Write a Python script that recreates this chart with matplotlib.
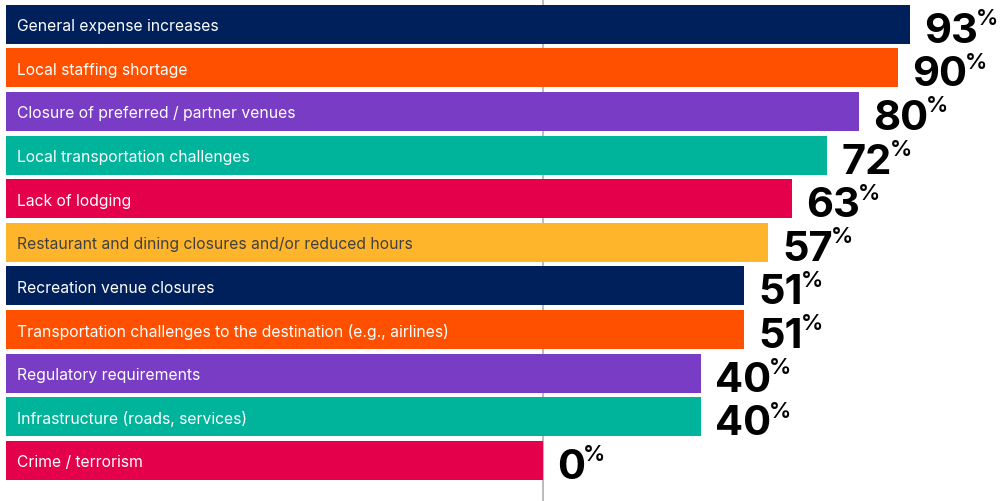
import matplotlib
matplotlib.use("Agg")
import matplotlib.pyplot as plt

categories = [
    "General expense increases",
    "Local staffing shortage",
    "Closure of preferred / partner venues",
    "Local transportation challenges",
    "Lack of lodging",
    "Restaurant and dining closures and/or reduced hours",
    "Recreation venue closures",
    "Transportation challenges to the destination (e.g., airlines)",
    "Regulatory requirements",
    "Infrastructure (roads, services)",
    "Crime / terrorism",
]
values = [93, 90, 80, 72, 63, 57, 51, 51, 40, 40, 0]

colors = ["#00205B", "#FF5000", "#793CC5", "#00B39B", "#E4004B", "#FFB52B"]
label_colors = ["white", "white", "white", "white", "white", "#404040"]

bar_start = -136  # bars begin well left of the zero line

fig = plt.figure(figsize=(10, 5.02), dpi=100)
ax = fig.add_axes([0, 0, 1, 1])
ax.set_xlim(-137.5, 115.7)
ax.set_ylim(10.93, -0.58)
ax.axis("off")

ax.axvline(0, color="#b0b0b0", lw=1.2, zorder=0)

for i, (cat, v) in enumerate(zip(categories, values)):
    c = colors[i % len(colors)]
    tc = label_colors[i % len(colors)]
    ax.barh(i, v - bar_start, left=bar_start, height=0.895, color=c, zorder=2)
    ax.annotate(cat, xy=(bar_start, i), xytext=(8, -1), textcoords="offset points",
                va="center", ha="left", color=tc, fontsize=11.3, family="Inter", zorder=3)
    num = ax.annotate(f"{v}", xy=(v, i), xytext=(10, -12.5), textcoords="offset points",
                      va="baseline", ha="left", color="black", fontsize=30,
                      fontweight="bold", family="Inter", zorder=3)
    ax.annotate("%", xy=(1, 1), xycoords=num, xytext=(-1.5, 2.5), textcoords="offset points",
                va="top", ha="left", color="black", fontsize=16,
                fontweight="semibold", family="Inter", zorder=3)

fig.savefig("out.png", dpi=100)
